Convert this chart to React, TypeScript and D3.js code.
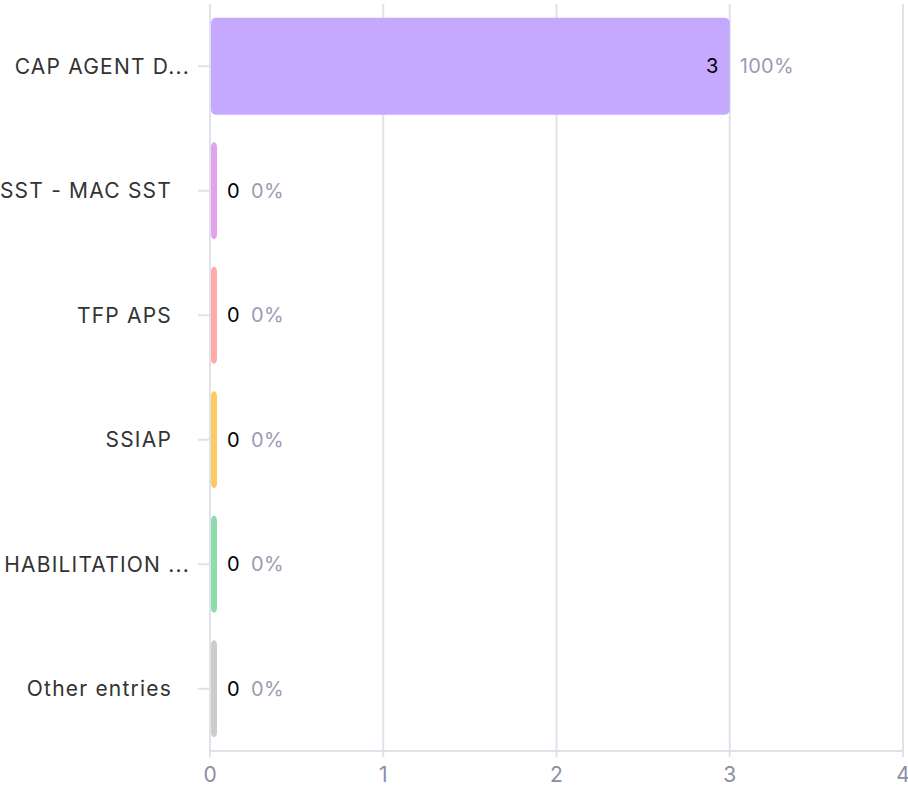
import React from "react";
import * as d3 from "d3";

const categories = ["CAP AGENT D...", "SST - MAC SST", "TFP APS", "SSIAP", "HABILITATION ...", "Other entries"];
const values = [3, 0, 0, 0, 0, 0];
const percents = ["100%", "0%", "0%", "0%", "0%", "0%"];
const colors = ["#c5a9ff", "#e3a3ea", "#ffa9a9", "#ffc964", "#8fdcab", "#cccccc"];
const xTicks = [0, 1, 2, 3, 4];

const W = 908, H = 788;
const M = { left: 210, right: 5, top: 4, bottom: 37 };
const FONT = "Inter, 'Noto Sans', sans-serif";

export default function App() {
  const x = d3.scaleLinear().domain([0, 4]).range([M.left, W - M.right]);
  const y = d3.scaleBand<string>().domain(categories).range([M.top, H - M.bottom]).paddingInner(0.22).paddingOuter(0.11);
  const bw = y.bandwidth();
  const grid = "#e1e1ec";
  return (
    <svg width={W} height={H} style={{ position: "absolute", left: 0, top: 0, background: "#fff" }} fontFamily={FONT}>
      {xTicks.map((t) => (
        <g key={t}>
          <line x1={x(t)} x2={x(t)} y1={4} y2={H - M.bottom + 6} stroke={grid} strokeWidth={2} />
          <text x={x(t)} y={H - 6} fill="#8d8da6" fontSize={21} textAnchor="middle">{t}</text>
        </g>
      ))}
      <line x1={x(0)} x2={x(4)} y1={H - M.bottom} y2={H - M.bottom} stroke={grid} strokeWidth={2} />
      {categories.map((c, i) => {
        const cy = (y(c) as number) + bw / 2;
        const x0 = x(0) + 1;
        const w = Math.max(x(values[i]) - x0, 6);
        const big = values[i] > 0;
        const truncated = c.endsWith("...");
        return (
          <g key={c}>
            <line x1={x(0) - 12} x2={x(0)} y1={cy} y2={cy} stroke={grid} strokeWidth={2} />
            <text x={truncated ? x(0) - 20 : x(0) - 38} y={cy} dy="0.36em" textAnchor="end" fontSize={21} letterSpacing={1.2} fill="#333">{c}</text>
            <rect x={x0} y={y(c)} width={w} height={bw} rx={5} fill={colors[i]} />
            <text x={big ? x0 + w - 11 : x0 + w + 10} y={cy} dy="0.36em" textAnchor={big ? "end" : "start"} fontSize={20} letterSpacing={0.3} fill="#000">{values[i]}</text>
            <text x={big ? x0 + w + 10 : x0 + w + 34} y={cy} dy="0.36em" fontSize={20} letterSpacing={0.3} fill="#9b9bb3">{percents[i]}</text>
          </g>
        );
      })}
    </svg>
  );
}
